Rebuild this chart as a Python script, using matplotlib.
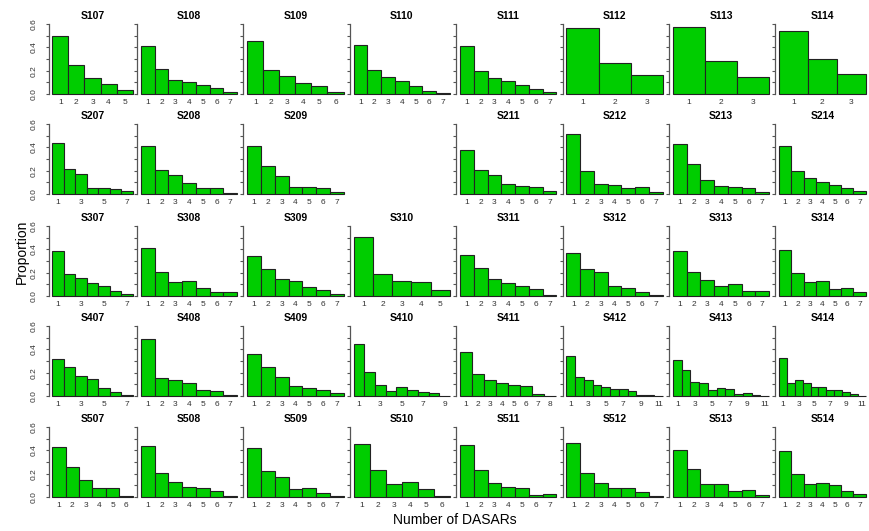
import numpy as np
import matplotlib
matplotlib.use('Agg')
import matplotlib.pyplot as plt

plt.rcParams['font.family'] = ['Liberation Sans', 'DejaVu Sans']

# proportion of calls located by k DASARs, k = 1..n, one dict per array row
row1 = {
    'S107': [0.50, 0.245, 0.135, 0.085, 0.035],
    'S108': [0.415, 0.215, 0.12, 0.105, 0.08, 0.055, 0.015],
    'S109': [0.455, 0.21, 0.155, 0.095, 0.07, 0.02],
    'S110': [0.42, 0.21, 0.145, 0.115, 0.07, 0.03, 0.012],
    'S111': [0.415, 0.2, 0.135, 0.11, 0.08, 0.045, 0.02],
    'S112': [0.57, 0.27, 0.16],
    'S113': [0.575, 0.28, 0.15],
    'S114': [0.54, 0.30, 0.17],
}
row2 = {
    'S207': [0.435, 0.216, 0.173, 0.054, 0.054, 0.043, 0.028],
    'S208': [0.409, 0.208, 0.165, 0.097, 0.054, 0.054, 0.006],
    'S209': [0.41, 0.239, 0.151, 0.06, 0.057, 0.051, 0.02],
    'S211': [0.38, 0.21, 0.165, 0.088, 0.07, 0.06, 0.025],
    'S212': [0.51, 0.195, 0.09, 0.073, 0.053, 0.062, 0.014],
    'S213': [0.43, 0.255, 0.118, 0.068, 0.06, 0.054, 0.018],
    'S214': [0.41, 0.2, 0.135, 0.105, 0.08, 0.048, 0.022],
}
row3 = {
    'S307': [0.39, 0.19, 0.155, 0.115, 0.09, 0.045, 0.015],
    'S308': [0.41, 0.21, 0.12, 0.13, 0.065, 0.033, 0.033],
    'S309': [0.345, 0.235, 0.143, 0.126, 0.08, 0.048, 0.02],
    'S310': [0.51, 0.19, 0.13, 0.117, 0.053],
    'S311': [0.352, 0.243, 0.143, 0.115, 0.084, 0.057, 0.008],
    'S312': [0.365, 0.233, 0.203, 0.09, 0.067, 0.032, 0.01],
    'S313': [0.386, 0.204, 0.134, 0.09, 0.102, 0.04, 0.044],
    'S314': [0.392, 0.193, 0.12, 0.131, 0.058, 0.072, 0.034],
}
row4 = {
    'S407': [0.32, 0.245, 0.17, 0.147, 0.066, 0.037, 0.009],
    'S408': [0.485, 0.157, 0.14, 0.113, 0.053, 0.043, 0.009],
    'S409': [0.36, 0.245, 0.161, 0.086, 0.066, 0.055, 0.023],
    'S410': [0.45, 0.21, 0.096, 0.047, 0.076, 0.053, 0.035, 0.029, 0.003],
    'S411': [0.375, 0.19, 0.133, 0.112, 0.095, 0.084, 0.017, 0.0],
    'S412': [0.345, 0.16, 0.133, 0.097, 0.08, 0.06, 0.057, 0.044, 0.009, 0.012, 0.003],
    'S413': [0.31, 0.225, 0.123, 0.108, 0.054, 0.068, 0.06, 0.015, 0.027, 0.006, 0.003],
    'S414': [0.325, 0.113, 0.137, 0.113, 0.08, 0.08, 0.054, 0.048, 0.033, 0.014, 0.003],
}
row5 = {
    'S507': [0.432, 0.26, 0.142, 0.078, 0.081, 0.007],
    'S508': [0.44, 0.21, 0.125, 0.087, 0.081, 0.05, 0.007],
    'S509': [0.417, 0.226, 0.171, 0.069, 0.074, 0.031, 0.011],
    'S510': [0.455, 0.23, 0.108, 0.125, 0.072, 0.01],
    'S511': [0.443, 0.228, 0.118, 0.09, 0.075, 0.02, 0.026],
    'S512': [0.465, 0.205, 0.124, 0.078, 0.078, 0.043, 0.007],
    'S513': [0.404, 0.239, 0.11, 0.11, 0.055, 0.063, 0.02],
    'S514': [0.398, 0.195, 0.108, 0.122, 0.099, 0.055, 0.023],
}
rows = [row1, row2, row3, row4, row5]

yticks = np.arange(0, 0.61, 0.1)
ylabels = ['0.0', '', '0.2', '', '0.4', '', '0.6']

# layout in pixels
W, H = 869, 531
PX_UNIT = 70 / 0.6                     # pixels per unit of proportion
col_left = [49] + [137 + 106.4 * k for k in range(7)]
col_width = [87] + [104] * 6 + [94]
row_zero = [94, 194, 296, 396, 497]    # pixel row of y = 0

GREEN = '#00cd00'

fig = plt.figure(figsize=(W / 100, H / 100), dpi=100)

for r, row in enumerate(rows):
    for name, props in row.items():
        c = int(name[2:]) - 7
        left, width = col_left[c], col_width[c]
        bottom = H - (row_zero[r] + 0.024 * PX_UNIT)
        ax = fig.add_axes([left / W, bottom / H, width / W, 0.648 * PX_UNIT / H])

        n = len(props)
        k = np.arange(1, n + 1)
        ax.bar(k, props, width=1.0, color=GREEN, edgecolor='#222222', linewidth=0.8)

        ext = 0.04 * n
        ax.set_xlim(0.5 - ext, n + 0.5 + ext)
        ax.set_ylim(-0.024, 0.624)
        for s in ['top', 'right', 'bottom']:
            ax.spines[s].set_visible(False)
        ax.spines['left'].set_bounds(0, 0.6)
        ax.spines['left'].set_color('#555555')
        ax.spines['left'].set_linewidth(0.9)

        ax.set_yticks(yticks)
        ax.set_yticklabels(ylabels if c == 0 else [''] * len(yticks))
        ax.tick_params(axis='y', length=2.2, width=0.8, color='#555555',
                       labelsize=6, labelcolor='#333333', labelrotation=90, pad=6)
        for t in ax.get_yticklabels():
            t.set_va('center')

        # thin out x labels when bars get narrow
        step = 2 if width / (n * 1.08) < 11.8 else 1
        ax.set_xticks(k[::step])
        ax.tick_params(axis='x', length=0, labelsize=6, labelcolor='#333333', pad=1.5)

        ax.set_title(name, fontsize=7.5, fontweight='bold', pad=1.5)

fig.text(22 / W, 1 - 252 / H, 'Proportion', rotation=90, ha='center', va='center', fontsize=10)
fig.text(455 / W, 1 - 520 / H, 'Number of DASARs', ha='center', va='center', fontsize=10)

fig.savefig('out.png', dpi=100)
